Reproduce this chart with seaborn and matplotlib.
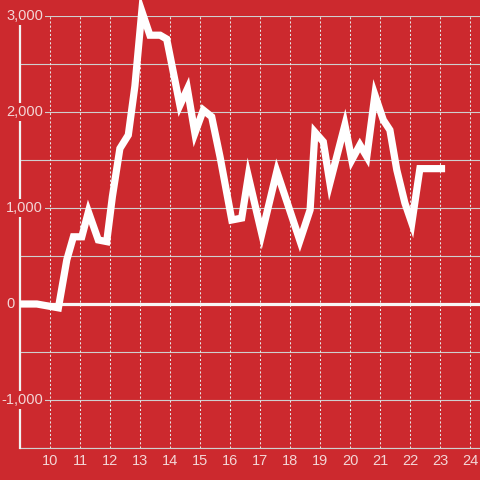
"""Recreate the red line chart with a white series and a zero baseline."""

import matplotlib

matplotlib.use("Agg")
import matplotlib.pyplot as plt
import pandas as pd
import seaborn as sns


BG_RED = "#cc292e"
LABEL_COLOR = "#f3d6d6"

hours = [
    9.0, 9.56, 10.28, 10.56, 10.78, 11.06, 11.28, 11.61, 11.89, 12.08,
    12.33, 12.61, 12.83, 13.06, 13.33, 13.67, 13.89, 14.33, 14.58, 14.83,
    15.11, 15.39, 15.67, 16.06, 16.39, 16.61, 17.06, 17.56, 18.33, 18.67,
    18.83, 19.11, 19.33, 19.83, 20.06, 20.33, 20.56, 20.83, 21.11, 21.33,
    21.56, 21.83, 22.06, 22.33, 23.17,
]
values = [
    0, 0, -40, 460, 700, 700, 960, 667, 650, 1120,
    1620, 1760, 2270, 3050, 2800, 2800, 2760, 2070, 2240, 1780,
    2020, 1950, 1530, 875, 895, 1330, 730, 1380, 660, 980,
    1790, 1690, 1260, 1865, 1500, 1656, 1535, 2177, 1917, 1812,
    1396, 1052, 843, 1410, 1410,
]
x_ticks = list(range(10, 25))
y_grid = [-1500, -1000, -500, 0, 500, 1000, 1500, 2000, 2500, 3000]
y_labels = [-1000, 0, 1000, 2000, 3000]


def draw_chart():
    sns.set_theme(style="white")
    plt.rcParams["font.family"] = ["Liberation Sans", "DejaVu Sans"]

    fig = plt.figure(figsize=(4.8, 4.8), dpi=100, facecolor=BG_RED)
    ax = fig.add_axes([20 / 480, 32 / 480, 460 / 480, 432 / 480])
    ax.set_facecolor(BG_RED)
    ax.set_xlim(9, 9 + 460 / 30)
    ax.set_ylim(-1500, 3000)

    for value in y_grid:
        ax.axhline(value, color="#cfcfcf", lw=0.8, zorder=1)
    for hour in x_ticks:
        ax.axvline(hour, color="#e6e6e6", lw=0.75, ls=(0, (2, 2)), zorder=1)
    ax.axhline(0, color="#f7f7f7", lw=2.3, zorder=2)

    data = pd.DataFrame({"hour": hours, "value": values})
    sns.lineplot(data=data, x="hour", y="value", ax=ax, color="white",
                 lw=5.2, zorder=4, clip_on=False)
    line = ax.lines[-1]
    line.set_solid_joinstyle("miter")
    line.set_solid_capstyle("butt")

    for side in ["top", "right"]:
        ax.spines[side].set_visible(False)
    ax.spines["left"].set_color("#f2f2f2")
    ax.spines["left"].set_linewidth(1.6)
    ax.spines["left"].set_zorder(3)
    ax.spines["bottom"].set_color("#d0d0d0")
    ax.spines["bottom"].set_linewidth(0.8)

    ax.set_xticks(x_ticks)
    ax.set_xticklabels([str(h) for h in x_ticks])
    ax.set_yticks([])
    ax.tick_params(axis="x", length=0, pad=4, labelsize=10.5, colors=LABEL_COLOR)
    ax.set_xlabel("")
    ax.set_ylabel("")

    trans = ax.get_yaxis_transform()
    for value in y_labels:
        text = f"{value:,}"
        x_pos = 43 if value != 0 else 15
        ax.text((x_pos - 20) / 460, value, text, transform=trans, ha="right",
                va="center", fontsize=10.5, color=LABEL_COLOR, zorder=5,
                bbox=dict(fc=BG_RED, ec="none", pad=1.5))

    fig.savefig("out.png", dpi=100, facecolor=BG_RED)
    plt.close(fig)


if __name__ == "__main__":
    draw_chart()
